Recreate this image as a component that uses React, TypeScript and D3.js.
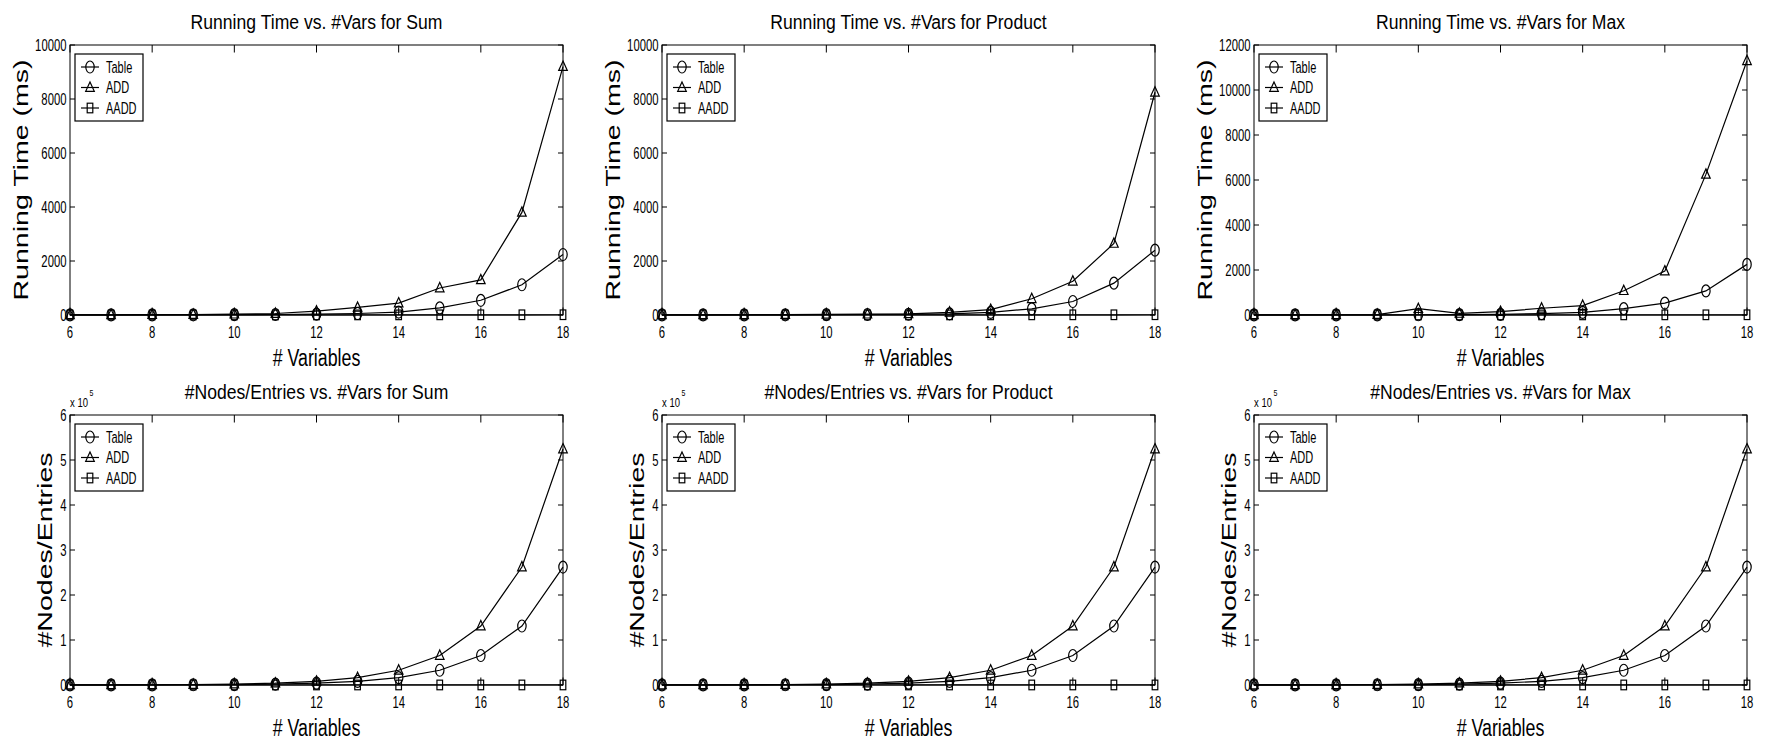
import React from 'react';
import * as d3 from 'd3';

const FONT = '"Liberation Sans", Arial, Helvetica, sans-serif';

// x values
const vars = [6, 7, 8, 9, 10, 11, 12, 13, 14, 15, 16, 17, 18];
const xTicks = [6, 8, 10, 12, 14, 16, 18];

// Running time (ms) — Sum
const sumTimeTable = [2, 3, 5, 8, 12, 18, 30, 55, 110, 265, 545, 1120, 2240];
const sumTimeADD = [5, 8, 12, 18, 30, 55, 140, 280, 440, 1000, 1300, 3800, 9200];
const sumTimeAADD = [1, 1, 1, 1, 2, 2, 3, 4, 5, 6, 7, 8, 10];

// Running time (ms) — Product
const prodTimeTable = [2, 3, 5, 8, 12, 18, 28, 45, 100, 230, 500, 1180, 2400];
const prodTimeADD = [4, 6, 10, 15, 22, 30, 45, 100, 200, 600, 1250, 2650, 8250];
const prodTimeAADD = [1, 1, 1, 1, 2, 2, 3, 4, 5, 6, 7, 8, 10];

// Running time (ms) — Max
const maxTimeTable = [2, 3, 5, 8, 12, 18, 30, 60, 120, 280, 530, 1070, 2250];
const maxTimeADD = [5, 8, 12, 20, 280, 70, 150, 300, 420, 1080, 1950, 6250, 11300];
const maxTimeAADD = [1, 1, 1, 1, 2, 2, 3, 4, 5, 6, 7, 8, 10];

// #Nodes/Entries (same for Sum, Product, Max)
const nodesTable = [64, 128, 256, 512, 1024, 2048, 4096, 8192, 16384, 32768, 65536, 131072, 262144];
const nodesADD = [127, 255, 511, 1023, 2047, 4095, 8191, 16383, 32767, 65535, 131071, 262143, 524287];
const nodesAADD = [20, 25, 30, 36, 42, 50, 58, 66, 75, 85, 95, 105, 115];

const timeTicks10k = [0, 2000, 4000, 6000, 8000, 10000];
const timeTicks12k = [0, 2000, 4000, 6000, 8000, 10000, 12000];
const nodeTicks = [0, 1, 2, 3, 4, 5, 6];

const seriesNames = ['Table', 'ADD', 'AADD'];

interface PanelDef {
  title: string;
  yLabel: string;
  yMax: number;
  yTicks: number[];
  tickDiv: number;
  exponent: boolean;
  data: number[][];
  col: number;
  row: number;
}

const panels: PanelDef[] = [
  { title: 'Running Time vs. #Vars for Sum', yLabel: 'Running Time (ms)', yMax: 10000, yTicks: timeTicks10k, tickDiv: 1, exponent: false, data: [sumTimeTable, sumTimeADD, sumTimeAADD], col: 0, row: 0 },
  { title: 'Running Time vs. #Vars for Product', yLabel: 'Running Time (ms)', yMax: 10000, yTicks: timeTicks10k, tickDiv: 1, exponent: false, data: [prodTimeTable, prodTimeADD, prodTimeAADD], col: 1, row: 0 },
  { title: 'Running Time vs. #Vars for Max', yLabel: 'Running Time (ms)', yMax: 12000, yTicks: timeTicks12k, tickDiv: 1, exponent: false, data: [maxTimeTable, maxTimeADD, maxTimeAADD], col: 2, row: 0 },
  { title: '#Nodes/Entries vs. #Vars for Sum', yLabel: '#Nodes/Entries', yMax: 6, yTicks: nodeTicks, tickDiv: 100000, exponent: true, data: [nodesTable, nodesADD, nodesAADD], col: 0, row: 1 },
  { title: '#Nodes/Entries vs. #Vars for Product', yLabel: '#Nodes/Entries', yMax: 6, yTicks: nodeTicks, tickDiv: 100000, exponent: true, data: [nodesTable, nodesADD, nodesAADD], col: 1, row: 1 },
  { title: '#Nodes/Entries vs. #Vars for Max', yLabel: '#Nodes/Entries', yMax: 6, yTicks: nodeTicks, tickDiv: 100000, exponent: true, data: [nodesTable, nodesADD, nodesAADD], col: 2, row: 1 },
];

const LEFTS = [70, 662, 1254];
const TOPS = [45, 415];
const PW = 493;
const PH = 270;

function T(props: { x: number; y: number; size: number; sx?: number; sy?: number; rot?: number; anchor?: string; children: React.ReactNode }) {
  const { x, y, size, sx = 1, sy = 1, rot = 0, anchor = 'start', children } = props;
  return (
    <text
      transform={`translate(${x},${y}) rotate(${rot}) scale(${sx},${sy})`}
      fontSize={size}
      fontFamily={FONT}
      textAnchor={anchor as any}
      fill="#000"
    >
      {children}
    </text>
  );
}

const SW = 1.2;

function Marker({ kind, x, y }: { kind: number; x: number; y: number }) {
  if (kind === 0) return <ellipse cx={x} cy={y} rx={4.2} ry={6} fill="none" stroke="#000" strokeWidth={SW} />;
  if (kind === 1)
    return <polygon points={`${x},${y - 5.5} ${x + 4.3},${y + 3.8} ${x - 4.3},${y + 3.8}`} fill="none" stroke="#000" strokeWidth={SW} />;
  return <rect x={x - 2.8} y={y - 4.8} width={5.6} height={9.6} fill="none" stroke="#000" strokeWidth={SW} />;
}

function Panel({ p }: { p: PanelDef }) {
  const L = LEFTS[p.col];
  const Tp = TOPS[p.row];
  const x = d3.scaleLinear().domain([6, 18]).range([L, L + PW]);
  const y = d3.scaleLinear().domain([0, p.yMax]).range([Tp + PH, Tp]);
  const line = d3
    .line<[number, number]>()
    .x((d) => x(d[0]))
    .y((d) => y(d[1] / p.tickDiv));
  const cx = L + PW / 2;
  const labelX = p.row === 0 ? L - 42 : L - 18;
  const legX = L + 5;
  const legY = Tp + 9;
  const rowYs = [Tp + 22, Tp + 42.5, Tp + 63];
  return (
    <g>
      {/* title */}
      <T x={cx} y={Tp - 15.7} size={17.6} sy={1.18} anchor="middle">{p.title}</T>
      {/* y label */}
      <T x={labelX} y={Tp + PH / 2} size={21} sx={1.36} rot={-90} anchor="middle">{p.yLabel}</T>
      {/* x label */}
      <T x={cx} y={Tp + PH + 51} size={17.8} sy={1.3} anchor="middle"># Variables</T>
      {/* exponent */}
      {p.exponent && (
        <g>
          <T x={L} y={Tp - 8.5} size={9.5} sy={1.4}>x 10</T>
          <T x={L + 19.5} y={Tp - 19} size={7} sy={1.4}>5</T>
        </g>
      )}
      {/* ticks */}
      {xTicks.map((t) => (
        <g key={'xt' + t}>
          <line x1={x(t)} x2={x(t)} y1={Tp + PH} y2={Tp + PH - 7.5} stroke="#000" strokeWidth={1} />
          <line x1={x(t)} x2={x(t)} y1={Tp} y2={Tp + 7.5} stroke="#000" strokeWidth={1} />
          <T x={x(t)} y={Tp + PH + 23} size={11.3} sy={1.45} anchor="middle">{t}</T>
        </g>
      ))}
      {p.yTicks.map((t) => (
        <g key={'yt' + t}>
          <line x1={L} x2={L + 5} y1={y(t)} y2={y(t)} stroke="#000" strokeWidth={1} />
          <line x1={L + PW} x2={L + PW - 5} y1={y(t)} y2={y(t)} stroke="#000" strokeWidth={1} />
          <T x={L - 3.5} y={y(t) + 5.8} size={11.3} sy={1.45} anchor="end">{t}</T>
        </g>
      ))}
      {/* box */}
      <rect x={L} y={Tp} width={PW} height={PH} fill="none" stroke="#000" strokeWidth={1} />
      {/* series */}
      {p.data.map((s, si) => {
        const pts = vars.map((v, i) => [v, s[i]] as [number, number]);
        return (
          <g key={'s' + si}>
            <path d={line(pts) || ''} fill="none" stroke="#000" strokeWidth={SW} />
            {pts.map((d, i) => (
              <Marker key={i} kind={si} x={x(d[0])} y={y(d[1] / p.tickDiv)} />
            ))}
          </g>
        );
      })}
      {/* legend */}
      <rect x={legX} y={legY} width={68} height={67} fill="#fff" stroke="#000" strokeWidth={1.2} />
      {seriesNames.map((n, i) => (
        <g key={n}>
          <line x1={L + 11} x2={L + 29} y1={rowYs[i]} y2={rowYs[i]} stroke="#000" strokeWidth={SW} />
          <Marker kind={i} x={L + 20} y={rowYs[i]} />
          <T x={L + 36} y={rowYs[i] + 5.6} size={11} sy={1.45}>{n}</T>
        </g>
      ))}
    </g>
  );
}

export default function App() {
  return (
    <svg
      width={1765}
      height={744}
      style={{ position: 'absolute', left: 0, top: 0, background: '#fff' }}
    >
      <rect x={0} y={0} width={1765} height={744} fill="#fff" />
      {panels.map((p, i) => (
        <Panel key={i} p={p} />
      ))}
    </svg>
  );
}
